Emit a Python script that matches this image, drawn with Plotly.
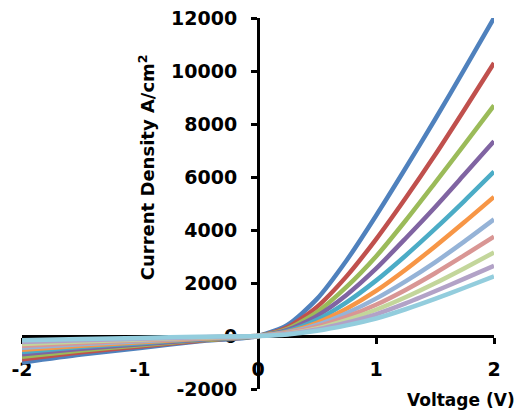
import plotly.graph_objects as go

voltage = [-2, -1.5, -1, -0.5, 0, 0.25, 0.5, 0.75, 1, 1.25, 1.5, 1.75, 2]

series = {
    "s1":  [-1000, -700, -450, -200, 0, 420, 1400, 2850, 4540, 6330, 8170, 10070, 12000],
    "s2":  [-880, -615, -395, -175, 0, 330, 1100, 2250, 3650, 5200, 6830, 8550, 10300],
    "s3":  [-780, -545, -350, -155, 0, 270, 900, 1850, 3000, 4350, 5780, 7230, 8700],
    "s4":  [-690, -485, -310, -140, 0, 230, 760, 1550, 2540, 3680, 4860, 6100, 7350],
    "s5":  [-600, -420, -270, -120, 0, 180, 610, 1270, 2090, 3030, 4040, 5100, 6200],
    "s6":  [-520, -365, -235, -105, 0, 150, 500, 1030, 1700, 2500, 3380, 4300, 5250],
    "s7":  [-440, -310, -200, -88, 0, 130, 420, 860, 1410, 2060, 2780, 3570, 4400],
    "s8":  [-370, -260, -165, -74, 0, 110, 350, 720, 1180, 1740, 2370, 3050, 3750],
    "s9":  [-300, -210, -135, -60, 0, 90, 290, 600, 990, 1460, 1990, 2560, 3150],
    "s10": [-230, -160, -105, -46, 0, 75, 245, 500, 820, 1230, 1690, 2165, 2650],
    "s11": [-160, -112, -72, -32, 0, 60, 195, 400, 660, 1010, 1400, 1820, 2250],
}

colors = ["#4F81BD", "#C0504D", "#9BBB59", "#8064A2", "#4BACC6", "#F79646",
          "#95B3D7", "#D99694", "#C3D69B", "#B2A2C7", "#93CDDD"]

x_ticks = [-2, -1, 0, 1, 2]
y_ticks = [-2000, 0, 2000, 4000, 6000, 8000, 10000, 12000]

fig = go.Figure()
for (name, vals), c in zip(series.items(), colors):
    fig.add_trace(go.Scatter(x=voltage, y=vals, mode="lines", name=name,
                             line=dict(color=c, width=4.5, shape="spline", smoothing=0.7),
                             showlegend=False))

tickfont = dict(family="DejaVu Sans", size=19, color="black", weight="bold")

fig.update_layout(
    width=515, height=402,
    margin=dict(l=14, r=29, t=10, b=21),
    plot_bgcolor="white", paper_bgcolor="white",
    xaxis=dict(range=[-2, 2], tickvals=x_ticks, ticktext=[str(v) for v in x_ticks],
               showgrid=False, zeroline=False, showline=True, linecolor="black", linewidth=3,
               ticks="outside", ticklen=6, tickwidth=3, tickcolor="black",
               anchor="free", position=2000 / 14000, tickfont=tickfont,
               ticklabelstandoff=9, layer="below traces", automargin=False,
               ticklabeloverflow="allow"),
    yaxis=dict(range=[-2000, 12000], tickvals=y_ticks, ticktext=[str(v) for v in y_ticks],
               showgrid=False, zeroline=False, showline=True, linecolor="black", linewidth=3,
               ticks="outside", ticklen=6, tickwidth=3, tickcolor="black",
               anchor="free", position=0.5, tickfont=tickfont,
               ticklabelstandoff=10, layer="below traces", automargin=False,
               ticklabeloverflow="allow"),
    annotations=[
        dict(text="Current Density A/cm<sup>2</sup>", xref="paper", yref="paper",
             x=0.265, y=0.598, textangle=-90, showarrow=False,
             xanchor="center", yanchor="middle",
             font=dict(family="DejaVu Sans", size=18, color="black", weight="bold")),
        dict(text="Voltage (V)", xref="paper", yref="paper",
             x=1.049, y=-0.03, showarrow=False, xanchor="right", yanchor="middle",
             font=dict(family="DejaVu Sans", size=17, color="black", weight="bold")),
    ],
)

fig.write_html("out.html")
